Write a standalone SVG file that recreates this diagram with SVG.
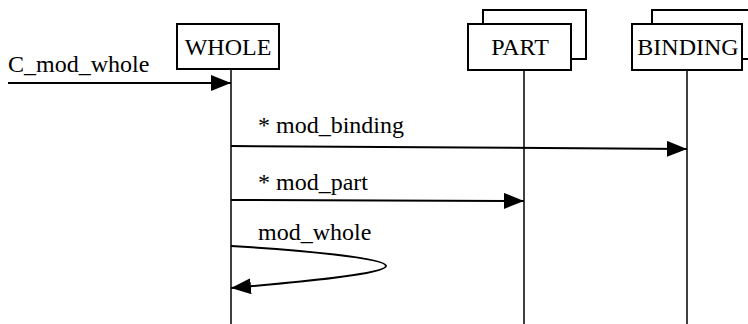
<svg xmlns="http://www.w3.org/2000/svg" width="748" height="324" viewBox="0 0 748 324">
  <style>
    .box { fill: #fff; stroke: #000; stroke-width: 2; }
    .life { stroke: #000; stroke-width: 1.5; fill: none; }
    .msg { stroke: #000; stroke-width: 2; fill: none; }
    .lbl { font-family: "Liberation Serif", serif; font-size: 24px; fill: #000; }
    .name { text-anchor: middle; }
  </style>
  <defs>
    <marker id="arrow" viewBox="0 0 20 16" refX="20" refY="8" markerWidth="20" markerHeight="16" markerUnits="userSpaceOnUse" orient="auto">
      <path d="M0,0 L20,8 L0,16 Z" fill="#000"/>
    </marker>
  </defs>
  <rect width="748" height="324" fill="#fff"/>

  <!-- lifelines -->
  <g id="lifelines">
    <line class="life" x1="231" y1="69" x2="231" y2="324"/>
    <line class="life" x1="524" y1="70" x2="524" y2="324"/>
    <line class="life" x1="687" y1="70" x2="687" y2="324"/>
  </g>

  <g id="whole">
    <rect class="box" x="177" y="24" width="102" height="45"/>
    <text class="lbl name" x="228" y="55">WHOLE</text>
  </g>

  <g id="part">
    <rect class="box" x="483" y="10" width="103" height="49"/>
    <rect class="box" x="468" y="24" width="103" height="46"/>
    <text class="lbl name" x="520" y="55">PART</text>
  </g>

  <g id="binding">
    <rect class="box" x="652" y="10" width="110" height="49"/>
    <rect class="box" x="632" y="24" width="110" height="46"/>
    <text class="lbl name" x="688" y="55">BINDING</text>
  </g>

  <g id="connectors">
    <line class="msg" x1="8" y1="83" x2="231" y2="83" marker-end="url(#arrow)"/>
    <text class="lbl" x="8" y="72">C_mod_whole</text>

    <line class="msg" x1="231" y1="146" x2="687" y2="149" marker-end="url(#arrow)"/>
    <text class="lbl" x="258" y="133">* mod_binding</text>

    <line class="msg" x1="231" y1="200" x2="524" y2="201" marker-end="url(#arrow)"/>
    <text class="lbl" x="258" y="190">* mod_part</text>

    <path class="msg" d="M231,246 C300,250 386,258 386,266 C386,274 300,282 231,288" marker-end="url(#arrow)"/>
    <text class="lbl" x="258" y="240">mod_whole</text>
  </g>
</svg>
